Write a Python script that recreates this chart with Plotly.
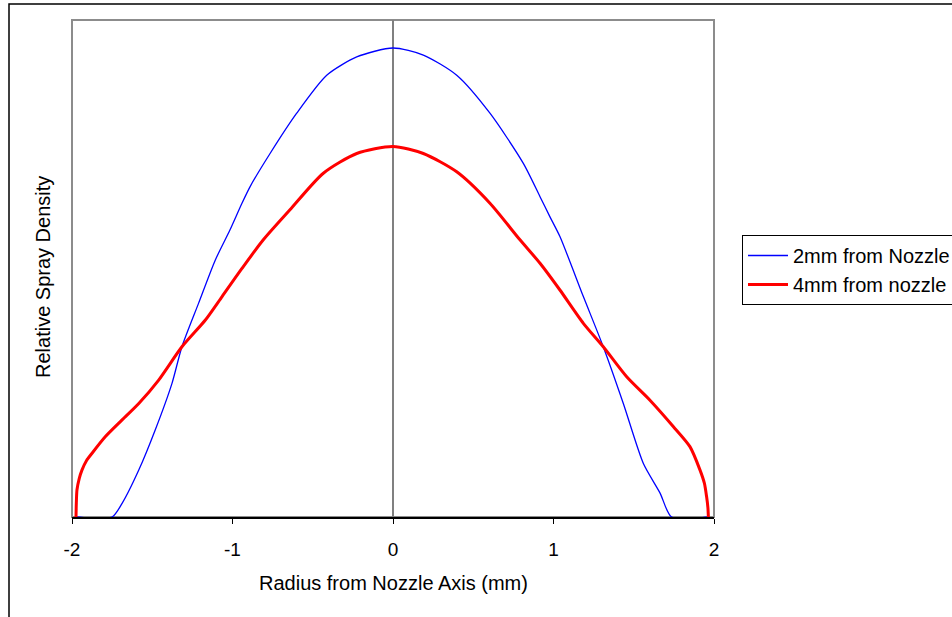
import plotly.graph_objects as go

# Data (relative density, blue peak = 1.0)
x_2mm = [-1.975, -1.751, -1.688, -1.584, -1.481, -1.377, -1.315, -1.211, -1.107, -1.016,
         -0.941, -0.891, -0.766, -0.600, -0.413, -0.226, 0.0, 0.189, 0.397, 0.604,
         0.812, 0.916, 0.978, 1.040, 1.186, 1.310, 1.435, 1.560, 1.664, 1.736, 1.965]
y_2mm = [0, 0, 0.029, 0.100, 0.186, 0.285, 0.363, 0.456, 0.548, 0.612,
         0.669, 0.704, 0.775, 0.861, 0.942, 0.981, 1.0, 0.985, 0.942, 0.861,
         0.754, 0.683, 0.640, 0.598, 0.470, 0.363, 0.242, 0.114, 0.051, 0, 0]

x_4mm = [-1.975, -1.973, -1.969, -1.955, -1.938, -1.910, -1.875, -1.793, -1.688, -1.584,
         -1.460, -1.315, -1.169, -1.065, -0.941, -0.808, -0.642, -0.434, -0.226, 0.0,
         0.189, 0.397, 0.604, 0.791, 0.916, 1.040, 1.186, 1.310, 1.456, 1.601,
         1.746, 1.850, 1.913, 1.940, 1.954, 1.962, 1.965]
y_4mm = [0, 0.03, 0.058, 0.082, 0.100, 0.120, 0.136, 0.171, 0.207, 0.242,
         0.292, 0.363, 0.420, 0.470, 0.530, 0.591, 0.655, 0.733, 0.775, 0.790,
         0.775, 0.736, 0.669, 0.591, 0.541, 0.484, 0.413, 0.363, 0.299, 0.249,
         0.193, 0.150, 0.100, 0.072, 0.043, 0.020, 0]

x_ticks = [-2, -1, 0, 1, 2]
x_tick_labels = ["-2", "-1", "0", "1", "2"]
series_names = ["2mm from Nozzle", "4mm from nozzle"]

FONT = "Liberation Sans, Arial, sans-serif"

fig = go.Figure()
fig.add_trace(go.Scatter(x=x_2mm, y=y_2mm, mode="lines", name=series_names[0],
                         line=dict(color="#0000ff", width=1.3, shape="spline", smoothing=0.7)))
fig.add_trace(go.Scatter(x=x_4mm, y=y_4mm, mode="lines", name=series_names[1],
                         line=dict(color="#ff0000", width=3, shape="spline", smoothing=0.7)))

L, R, T, B = 72, 238, 20, 100
W, H = 952, 617
pw, ph = W - L - R, H - T - B

def px2x(p):
    return (p - L) / pw

def py2y(p):
    return (H - B - p) / ph

shapes = [
    # gray plot-area frame
    dict(type="rect", xref="paper", yref="paper", x0=0, x1=1, y0=0, y1=1,
         line=dict(color="#8c8c8c", width=2), layer="below"),
    # outer chart border (extends past the window at right/bottom)
    dict(type="rect", xref="paper", yref="paper",
         x0=px2x(9), x1=px2x(W + 10), y0=py2y(H + 10), y1=py2y(4),
         line=dict(color="black", width=1.5), layer="below"),
]

annotations = [
    dict(text="Radius from Nozzle Axis (mm)", xref="paper", yref="paper",
         x=px2x(394), y=py2y(583), xanchor="center", yanchor="middle",
         showarrow=False, font=dict(family=FONT, size=20, color="black")),
    dict(text="Relative Spray Density", xref="paper", yref="paper",
         x=px2x(43), y=py2y(277), xanchor="center", yanchor="middle",
         textangle=-90, showarrow=False, font=dict(family=FONT, size=20, color="black")),
]

fig.update_layout(
    width=W, height=H,
    margin=dict(l=L, r=R, t=T, b=B, autoexpand=False),
    paper_bgcolor="white", plot_bgcolor="white",
    showlegend=True,
    legend=dict(x=px2x(742), y=py2y(235), xanchor="left", yanchor="top",
                bordercolor="black", borderwidth=1, bgcolor="white",
                font=dict(family=FONT, size=20, color="black"),
                itemwidth=40, tracegroupgap=0),
    shapes=shapes,
    annotations=annotations,
    xaxis=dict(range=[-2, 2], tickmode="array", tickvals=x_ticks, ticktext=x_tick_labels,
               showgrid=False, zeroline=True, zerolinecolor="#808080", zerolinewidth=2,
               showline=True, linecolor="black", linewidth=1.5,
               ticks="outside", ticklen=5, tickcolor="black", tickwidth=1,
               ticklabelstandoff=9,
               tickfont=dict(family=FONT, size=19, color="black"),
               layer="below traces", fixedrange=True),
    yaxis=dict(range=[0, 1.0597], showgrid=False, zeroline=False, showticklabels=False,
               ticks="", showline=False, layer="below traces", fixedrange=True),
)

fig.write_html("out.html")
